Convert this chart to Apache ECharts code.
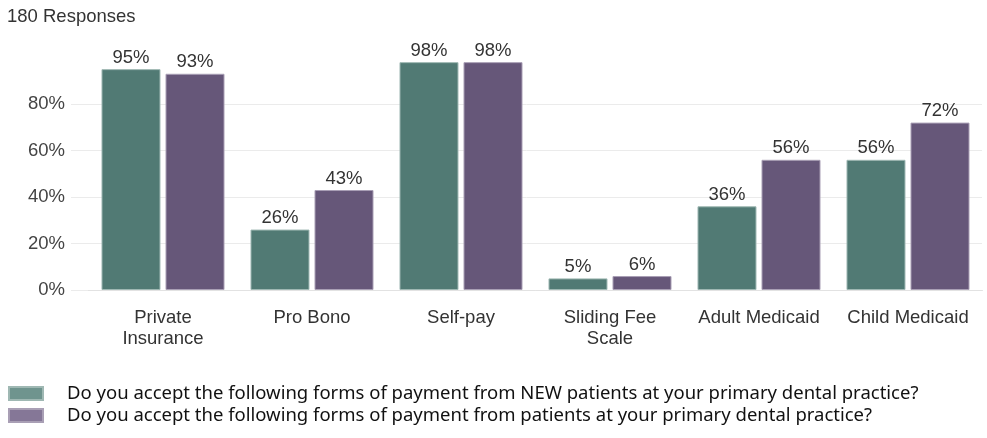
<!DOCTYPE html>
<html>
<head>
<meta charset="utf-8">
<script src="https://cdn.jsdelivr.net/npm/echarts@6/dist/echarts.min.js"></script>
<style>
  html, body { margin: 0; padding: 0; background: #fff; }
  #myChart { width: 987px; height: 438px; }
</style>
</head>
<body>
<div id="myChart"></div>
<script>
// categories and values
const categories = ["Private\nInsurance", "Pro Bono", "Self-pay", "Sliding Fee\nScale", "Adult Medicaid", "Child Medicaid"];
const newPatients = [95, 26, 98, 5, 36, 56];
const allPatients = [93, 43, 98, 6, 56, 72];
const seriesNames = [
  "Do you accept the following forms of payment from NEW patients at your primary dental practice?",
  "Do you accept the following forms of payment from patients at your primary dental practice?"
];
const yTicks = [0, 20, 40, 60, 80];

const green = "#517a74";
const purple = "#665779";
const fontSize = 18.5;

const chart = echarts.init(document.getElementById("myChart"));
const option = {
  animation: false,
  title: {
    text: "180 Responses",
    left: 2,
    top: 2,
    textStyle: { fontFamily: "Liberation Sans", fontSize: fontSize, fontWeight: "normal", color: "#333" },
  },
  legend: {
    orient: "vertical",
    left: 3,
    top: 379,
    itemWidth: 34,
    itemHeight: 13,
    itemGap: 3,
    icon: "rect",
    textStyle: { fontFamily: "Noto Sans", fontSize: 18.5, lineHeight: 14, color: "#111", padding: [0, 0, 0, 19] },
    data: [
      { name: seriesNames[0], itemStyle: { color: "#6f948e" } },
      { name: seriesNames[1], itemStyle: { color: "#857797" } },
    ],
  },
  grid: [
    // gridlines only, they reach further left than the bars
    { left: 71, right: 5, top: 57.5, bottom: 148 },
    { left: 88.5, right: 4.5, top: 57.5, bottom: 148 },
  ],
  xAxis: [
    { gridIndex: 0, type: "value", show: false },
    {
      gridIndex: 1,
      type: "category",
      data: categories,
      axisTick: { show: false },
      axisLine: { lineStyle: { color: "#e2e2e2" } },
      axisLabel: {
        fontFamily: "Liberation Sans",
        fontSize: fontSize,
        color: "#333",
        margin: 17,
        lineHeight: 21,
        interval: 0,
      },
    },
  ],
  yAxis: [
    {
      gridIndex: 0,
      type: "value",
      min: 0,
      max: 100,
      interval: 20,
      axisLine: { show: false },
      axisTick: { show: false },
      axisLabel: {
        fontFamily: "Liberation Sans",
        fontSize: fontSize,
        color: "#444",
        margin: 6,
        formatter: (v) => (yTicks.indexOf(v) >= 0 ? v + "%" : ""),
      },
      splitLine: { showMaxLine: false, lineStyle: { color: "#ebebeb" } },
    },
    { gridIndex: 1, type: "value", min: 0, max: 100, show: false },
  ],
  series: [
    {
      name: seriesNames[0],
      type: "bar",
      xAxisIndex: 1,
      yAxisIndex: 1,
      data: newPatients,
      barWidth: 59,
      barGap: "8.5%",
      itemStyle: { color: green, borderColor: "#9fb8b3", borderWidth: 1 },
      label: {
        show: true,
        position: "top",
        distance: 2,
        formatter: "{c}%",
        fontFamily: "Liberation Sans",
        fontSize: fontSize,
        color: "#333",
      },
    },
    {
      name: seriesNames[1],
      type: "bar",
      xAxisIndex: 1,
      yAxisIndex: 1,
      data: allPatients,
      barWidth: 59,
      barGap: "8.5%",
      itemStyle: { color: purple, borderColor: "#a99fb5", borderWidth: 1 },
      label: {
        show: true,
        position: "top",
        distance: 2,
        formatter: "{c}%",
        fontFamily: "Liberation Sans",
        fontSize: fontSize,
        color: "#333",
      },
    },
  ],
};
chart.setOption(option);
</script>
</body>
</html>
